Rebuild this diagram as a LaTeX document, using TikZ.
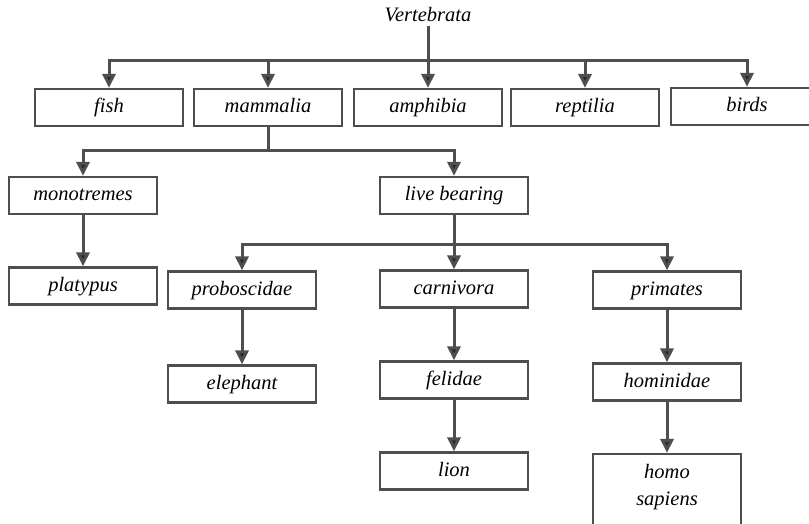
\documentclass[tikz,border=0pt]{standalone}
\usepackage{fontspec}
\setmainfont{Liberation Serif}
\usetikzlibrary{arrows.meta,positioning}
\definecolor{LineGray}{RGB}{78,78,78}
\definecolor{TipGray}{RGB}{40,40,40}

\begin{document}
\begin{tikzpicture}[x=1pt, y=-1pt,
    taxon/.style={draw=LineGray, line width=2.2pt, minimum width=148pt, minimum height=37pt,
      inner sep=0pt, text height=14pt, text depth=4pt, align=center,
      font=\fontsize{20.5}{23}\selectfont\itshape},
    link/.style={draw=LineGray, line width=3pt,
      -{Triangle[length=14pt, width=13pt, fill=TipGray]}}]
  \clip (0,0) rectangle (809,524);
  \fill[white] (0,0) rectangle (809,524);

  % root and first level
  \node[font=\fontsize{20.5}{23}\selectfont\itshape, inner sep=0pt, text height=14pt, text depth=4pt] (vert) at (428,17) {Vertebrata};
  \node[taxon] (fish) at (109,107.5) {fish};
  \node[taxon] (mammalia) at (268,107.5) {mammalia};
  \node[taxon] (amphibia) at (428,107.5) {amphibia};
  \node[taxon] (reptilia) at (585,107.5) {reptilia};
  \node[taxon, minimum width=152pt] (birds) at (747,106.5) {birds};

  % mammals
  \node[taxon] (mono) at (83,195.5) {monotremes};
  \node[taxon] (live) at (454,195.5) {live bearing};
  \node[taxon] (platypus) at (83,286) {platypus};
  \node[taxon] (probo) at (242,290) {proboscidae};
  \node[taxon] (carni) at (454,289) {carnivora};
  \node[taxon] (prim) at (667,290) {primates};
  \node[taxon] (elephant) at (242,384) {elephant};
  \node[taxon] (felidae) at (454,380) {felidae};
  \node[taxon] (homin) at (667,382) {hominidae};
  \node[taxon] (lion) at (454,471) {lion};
  \node[taxon, minimum height=80pt, text height=41pt, text depth=18pt,
    font=\fontsize{20.5}{27}\selectfont\itshape] (homo) at (667,494) {homo\\sapiens};

  % bars
  \coordinate (barA) at (0,61);
  \coordinate (barB) at (0,151);
  \coordinate (barC) at (0,244);

  \foreach \c in {fish,mammalia,amphibia,reptilia,birds}
    \draw[link] (vert.south) |- (\c.north |- barA) -- (\c.north);
  \foreach \c in {mono,live}
    \draw[link] (mammalia.south) |- (\c.north |- barB) -- (\c.north);
  \foreach \c in {probo,carni,prim}
    \draw[link] (live.south) |- (\c.north |- barC) -- (\c.north);

  \draw[link] (mono) -- (platypus);
  \draw[link] (probo) -- (elephant);
  \draw[link] (carni) -- (felidae);
  \draw[link] (felidae) -- (lion);
  \draw[link] (prim) -- (homin);
  \draw[link] (homin) -- (homo);
\end{tikzpicture}
\end{document}
